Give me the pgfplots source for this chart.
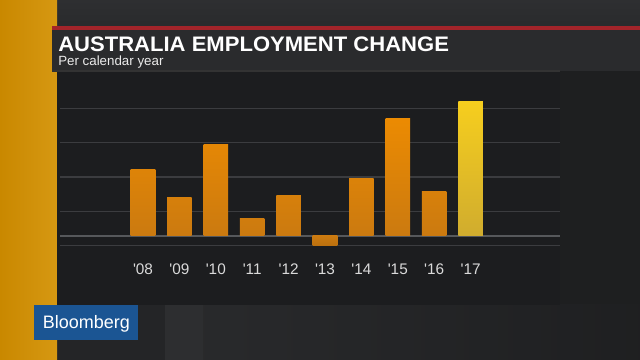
\documentclass[border=0pt]{standalone}
\usepackage{graphicx}
\usepackage{pgfplots}
\pgfplotsset{compat=1.18}
\usepackage{fontspec}
\setmainfont{Liberation Sans}
\definecolor{bgA}{HTML}{242527}
\definecolor{bgTop}{HTML}{2E2F31}
\definecolor{bgRight}{HTML}{1E1F20}
\definecolor{bgBot}{HTML}{2A2B2D}
\definecolor{bgBand}{HTML}{2D2E30}
\definecolor{stripeA}{HTML}{C98800}
\definecolor{stripeB}{HTML}{D69812}
\definecolor{redline}{HTML}{A3242A}
\definecolor{titlepanel}{HTML}{2A2B2D}
\definecolor{chartpanel}{HTML}{1C1D1F}
\definecolor{gridc}{HTML}{3B3C3F}
\definecolor{zeroc}{HTML}{56585B}
\definecolor{tickc}{HTML}{DADADA}
\definecolor{bbblue}{HTML}{1B5593}
\definecolor{orT}{HTML}{F08D00}
\definecolor{orB}{HTML}{CB7A10}
\definecolor{yT}{HTML}{F6CE1E}
\definecolor{yB}{HTML}{D0AC2E}
\begin{document}
\begin{tikzpicture}[x=0.75pt,y=0.75pt]
\useasboundingbox (0,0) rectangle (640,360);
% background
\fill[bgA] (0,0) rectangle (640,360);
\fill[top color=bgTop, bottom color=bgA] (0,300) rectangle (640,360);
\fill[bgRight] (560,55) rectangle (640,289);
% lower band below chart panel
\fill[left color=bgBot, right color=bgA!85!black] (138,0) rectangle (640,55);
\fill[bgA] (138,0) rectangle (165,55);
\fill[bgBand] (165,0) rectangle (203,55);
% orange stripe
\fill[left color=stripeA, right color=stripeB] (0,0) rectangle (57,360);
% red line and title panel
\fill[redline] (52,330) rectangle (640,334);
\fill[titlepanel] (52,289) rectangle (640,330);
\fill[black!80] (52,288) rectangle (560,289.5);
% chart panel
\fill[chartpanel] (57,55) rectangle (560,288);
% titles
\node[anchor=base west, inner sep=0pt, text=white, font=\fontsize{15.75}{18}\selectfont\bfseries] at (58,308.3) {\scalebox{1.05}[1]{AUSTRALIA EMPLOYMENT CHANGE}};
\node[anchor=base west, inner sep=0pt, text=white!92!black, font=\fontsize{10}{12}\selectfont] at (58,294.5) {Per calendar year};
% Bloomberg box
\fill[bbblue] (34,20) rectangle (138,55);
\node[anchor=base west, inner sep=0pt, text=white, font=\fontsize{13.5}{15}\selectfont] at (42.7,31.7) {Bloomberg};
\begin{axis}[
  at={(45pt,78.75pt)}, anchor=south west,
  width=375pt, height=131.25pt, scale only axis,
  xmin=-2.280, xmax=11.456, ymin=-57, ymax=468,
  axis line style={draw=none},
  xtick={0,1,2,3,4,5,6,7,8,9},
  xticklabels={\textquotesingle08,\textquotesingle09,\textquotesingle10,\textquotesingle11,\textquotesingle12,\textquotesingle13,\textquotesingle14,\textquotesingle15,\textquotesingle16,\textquotesingle17},
  ytick={-29,74,177,280,383}, yticklabels={},
  major tick length=0pt,
  ymajorgrids, grid style={color=gridc, line width=0.9pt},
  extra y ticks={0}, extra y tick labels={},
  extra y tick style={major grid style={color=zeroc, line width=1.5pt}},
  xticklabel style={anchor=center, yshift=-10.5pt, text=tickc, font=\fontsize{11.5}{13}\selectfont},
  ybar, bar width=18.4pt, bar shift=0pt,
  clip=false,
]
\addplot[draw=none, top color=orT!50!orB, bottom color=orB] coordinates {(0,200)};
\addplot[draw=none, top color=orT!29!orB, bottom color=orB] coordinates {(1,115)};
\addplot[draw=none, top color=orT!68!orB, bottom color=orB] coordinates {(2,275)};
\addplot[draw=none, top color=orT!13!orB, bottom color=orB] coordinates {(3,51)};
\addplot[draw=none, top color=orT!30!orB, bottom color=orB] coordinates {(4,122)};
\addplot[draw=none, top color=orB, bottom color=orB!92!black] coordinates {(5,-29)};
\addplot[draw=none, top color=orT!43!orB, bottom color=orB] coordinates {(6,173)};
\addplot[draw=none, top color=orT!88!orB, bottom color=orB] coordinates {(7,353)};
\addplot[draw=none, top color=orT!33!orB, bottom color=orB] coordinates {(8,133)};
\addplot[draw=none, top color=yT, bottom color=yB] coordinates {(9,403)};
\end{axis}
\end{tikzpicture}
\end{document}
